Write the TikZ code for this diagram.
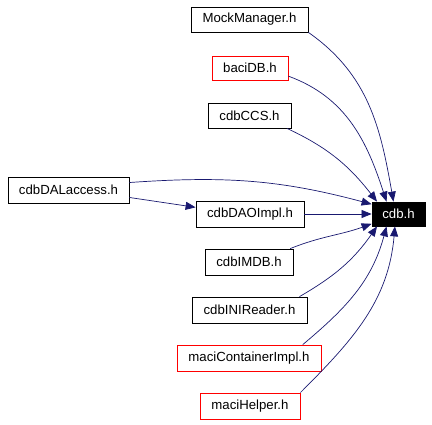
\documentclass[tikz,border=0pt]{standalone}
\usepackage{fontspec}
\setmainfont{Liberation Sans}
\usepackage{tikz}
\usetikzlibrary{arrows.meta}
\definecolor{edgeblue}{HTML}{191970}
\definecolor{boxred}{HTML}{FF0000}

\begin{document}
\begin{tikzpicture}[x=1pt, y=1pt,
	file/.style={draw=black, line width=0.8pt, inner sep=0pt, minimum height=25pt,
		font=\fontsize{13.2}{15}\selectfont},
	redfile/.style={file, draw=boxred},
	target/.style={file, fill=black, text=white},
	dep/.style={draw=edgeblue, line width=0.7pt,
		-{Triangle[length=10pt, width=8pt]}}]
	\useasboundingbox (0,0) rectangle (432,424);

	% included by
	\node[file, minimum width=117pt] (mock) at (249.5,404.5) {MockManager.h};
	\node[redfile, minimum width=76pt, minimum height=24pt] (baci) at (250,356) {baciDB.h};
	\node[file, minimum width=83pt] (ccs) at (249.5,308.5) {cdbCCS.h};
	\node[file, minimum width=121pt, minimum height=26pt] (dal) at (68.5,234) {cdbDALaccess.h};
	\node[file, minimum width=108pt, minimum height=26pt] (dao) at (250,210) {cdbDAOImpl.h};
	\node[file, minimum width=88pt, minimum height=26pt] (imdb) at (249,162) {cdbIMDB.h};
	\node[file, minimum width=115pt, minimum height=26pt] (ini) at (249.5,114) {cdbINIReader.h};
	\node[redfile, minimum width=144pt, minimum height=26pt] (maci) at (249,66) {maciContainerImpl.h};
	\node[redfile, minimum width=100pt, minimum height=26pt] (helper) at (250,18) {maciHelper.h};

	% the header itself
	\node[target, minimum width=53pt, minimum height=24pt] (cdb) at (398.5,210) {cdb.h};

	\foreach \src/\sa/\oa/\ia/\ea in {
		mock/south east/-35/100/112,
		baci/-12/-20/108/134,
		ccs/-19/-25/128/150,
		dal/7/4/165/160,
		imdb/18/22/-160/200,
		ini/15/30/-125/210,
		maci/14/40/-105/226,
		helper/north east/45/-95/254}{
		\draw[dep]
			(\src.\sa) to[out=\oa, in=\ia] (cdb.\ea);
	}

	\draw[dep] (dal.-7) -- (dao.173);
	\draw[dep] (dao) -- (cdb);
\end{tikzpicture}
\end{document}
